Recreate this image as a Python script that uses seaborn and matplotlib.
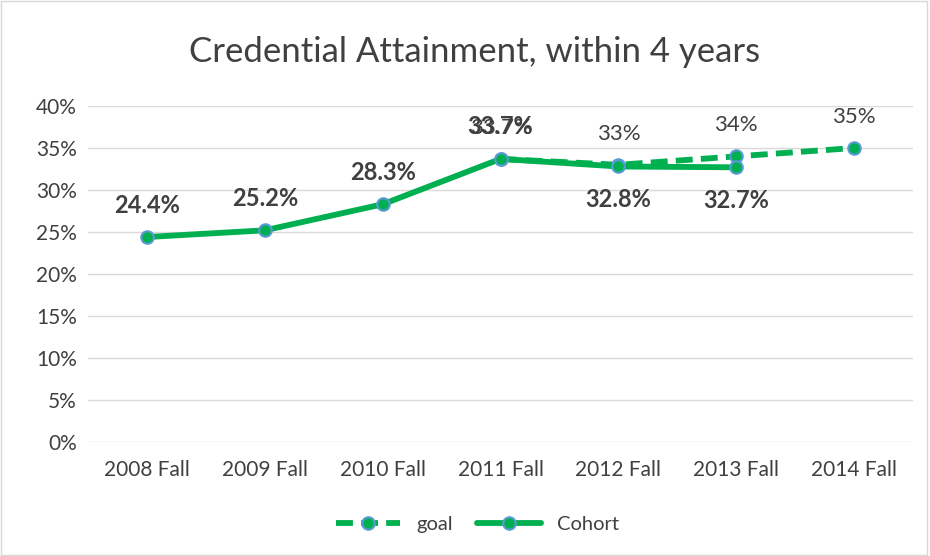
import matplotlib
matplotlib.use("Agg")
import matplotlib.pyplot as plt
import seaborn as sns
import pandas as pd
from matplotlib.patches import Rectangle

categories = ["2008 Fall", "2009 Fall", "2010 Fall", "2011 Fall", "2012 Fall", "2013 Fall", "2014 Fall"]
cohort_values = [0.244, 0.252, 0.283, 0.337, 0.328, 0.327]
goal_categories = ["2011 Fall", "2012 Fall", "2013 Fall", "2014 Fall"]
goal_values = [0.337, 0.33, 0.34, 0.35]
goal_labels = ["33.7%", "33%", "34%", "35%"]
cohort_labels = ["24.4%", "25.2%", "28.3%", "33.7%", "32.8%", "32.7%"]
yticks = [0, 0.05, 0.10, 0.15, 0.20, 0.25, 0.30, 0.35, 0.40]

sns.set_theme(style="white")
plt.rcParams['font.family'] = ['Lato', 'DejaVu Sans']

GREEN = "#00B050"
BLUE = "#5B9BD5"
TXT = "#404040"

fig = plt.figure(figsize=(9.3, 5.56), dpi=100)
ax = fig.add_axes([88/930, 1-442/556, (913-88)/930, (442-106)/556])

xpos = {c: i for i, c in enumerate(categories)}
df_cohort = pd.DataFrame({"x": [xpos[c] for c in categories[:len(cohort_values)]], "y": cohort_values})
df_goal = pd.DataFrame({"x": [xpos[c] for c in goal_categories], "y": goal_values})

sns.lineplot(data=df_goal, x="x", y="y", ax=ax, color=GREEN, lw=4.2,
             linestyle=(0, (2.9, 1.4)), marker="o", markersize=9, markerfacecolor=GREEN,
             markeredgecolor=BLUE, markeredgewidth=1.5, label="goal", zorder=3)
sns.lineplot(data=df_cohort, x="x", y="y", ax=ax, color=GREEN, lw=4.2,
             marker="o", markersize=9, markerfacecolor=GREEN,
             markeredgecolor=BLUE, markeredgewidth=1.5, label="Cohort", zorder=4)

# data labels
for i, (v, lab) in enumerate(zip(cohort_values, cohort_labels)):
    off = 32 if i < 4 else -33
    ax.annotate(lab, (i, v), xytext=(0, off), textcoords="offset pixels",
                ha="center", va="center", fontsize=17, fontweight="bold", color=TXT, zorder=5)
for c, v, lab in zip(goal_categories, goal_values, goal_labels):
    ax.annotate(lab, (xpos[c], v), xytext=(0, 31), textcoords="offset pixels",
                ha="center", va="center", fontsize=16, color=TXT, zorder=5)

ax.set_xlim(-0.5, len(categories) - 0.5)
ax.set_ylim(0, 0.40)
ax.set_yticks(yticks)
ax.set_yticklabels([f"{int(round(t*100))}%" for t in yticks])
ax.set_xticks(range(len(categories)))
ax.set_xticklabels(categories)
ax.tick_params(axis="both", labelsize=15, colors=TXT, length=0)
ax.tick_params(axis="x", pad=13)
ax.tick_params(axis="y", pad=8)
ax.set_xlabel("")
ax.set_ylabel("")
ax.grid(axis="y", color="#D9D9D9", lw=1)
ax.set_axisbelow(True)
for s in ax.spines.values():
    s.set_visible(False)

fig.text(475/930, 1-52/556, "Credential Attainment, within 4 years", ha="center", va="center",
         fontsize=25, color=TXT)

leg = ax.legend(loc="center", bbox_to_anchor=((477.5-88)/825, (442-524)/336), ncol=2, frameon=False,
                fontsize=14.5, handlelength=3.2, columnspacing=1.2, handletextpad=0.8)
for t in leg.get_texts():
    t.set_color(TXT)

fig.patches.append(Rectangle((0.001, 0.002), 0.996, 0.996, transform=fig.transFigure,
                             fill=False, edgecolor="#D9D9D9", lw=1))

fig.savefig("out.png", dpi=100)
